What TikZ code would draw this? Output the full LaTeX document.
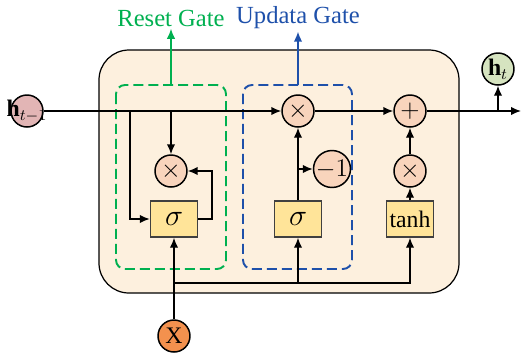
\documentclass[tikz,border=0pt]{standalone}
\usepackage{fontspec}
\setmainfont{Liberation Serif}
\usetikzlibrary{positioning,arrows.meta,calc}
\definecolor{cellbg}{RGB}{253,240,222}
\definecolor{opfill}{RGB}{248,212,188}
\definecolor{actfill}{RGB}{255,228,153}
\definecolor{hprevfill}{RGB}{226,181,181}
\definecolor{hnowfill}{RGB}{214,228,192}
\definecolor{xfill}{RGB}{243,145,78}
\definecolor{rgreen}{RGB}{0,176,80}
\definecolor{ublue}{RGB}{30,80,170}

\begin{document}
\begin{tikzpicture}[x=0.02cm,y=-0.02cm,line width=0.85pt,
    op/.style={circle,draw,fill=opfill,minimum size=0.64cm,inner sep=0pt,font=\Large},
    act/.style={draw=black!75,fill=actfill,minimum width=0.94cm,minimum height=0.72cm,inner sep=0pt},
    io/.style={circle,draw,minimum size=0.64cm,inner sep=0pt,font=\fontsize{13.5}{15}\selectfont},
    arr/.style={-{Latex[length=2mm,width=1.7mm]}},
    gate/.style={dash pattern=on 0.2cm off 0.1cm,rounded corners=0.18cm,line width=1.1pt},
    glabel/.style={font=\fontsize{14}{16}\selectfont,inner sep=1pt}]
  \useasboundingbox (0,0) rectangle (525,353);
  % cell and gate frames
  \draw[fill=cellbg,line width=0.7pt,rounded corners=0.6cm] (99,50) rectangle (459,293);
  \draw[gate,rgreen] (116,85) rectangle (226,269);
  \draw[gate,ublue] (243,85) rectangle (352,269);
  % operations
  \node[op] (mul1) at (171,171) {$\times$};
  \node[op] (mul2) at (298,111) {$\times$};
  \node[op] (neg) at (332,169) {$-1$};
  \node[op] (add) at (410,111) {$+$};
  \node[op] (mul3) at (410,171) {$\times$};
  \node[act,font=\LARGE] (sig1) at (174,219) {$\sigma$};
  \node[act,font=\LARGE] (sig2) at (298,219) {$\sigma$};
  \node[act,font=\fontsize{13.5}{15}\selectfont] (tnh) at (410,219) {tanh};
  % inputs and output
  \node[io,fill=hprevfill] (hprev) at (27,111) {\makebox[0pt][c]{\textbf{h}$_{t-1}$}};
  \node[io,fill=hnowfill] (hnow) at (498,69) {\makebox[0pt][c]{\textbf{h}$_{t}$}};
  \node[io,fill=xfill] (xin) at (174,336) {X};
  \node[glabel,text=rgreen] (rlab) at (171,18) {Reset Gate};
  \node[glabel,text=ublue] (ulab) at (298,18) {Updata Gate};
  \coordinate (rtop) at (171,85);
  \coordinate (utop) at (298,85);
  \coordinate (out) at (521,111);
  \coordinate (br1) at (130,111);
  \coordinate (br2) at (171,111);
  \coordinate (brh) at (498,111);
  \coordinate (brn) at (298,169);
  \coordinate (brx) at (174,283);
  % connectors
  \draw[arr,rgreen] (rtop) -- (rlab);
  \draw[arr,ublue] (utop) -- (ulab);
  \draw[arr] (hprev) -- (mul2);
  \draw[arr] (mul2) -- (add);
  \draw[arr] (add) -- (out);
  \draw[arr] (brh) -- (hnow);
  \draw[arr] (br1) |- (sig1);
  \draw[arr] (br2) -- (mul1);
  \draw[arr] (sig1.east) -- ++(14,0) |- (mul1);
  \draw[arr] (xin) -- (sig1);
  \draw[arr] (brx) -| (sig2);
  \draw[arr] (brx) -| (tnh);
  \draw[arr] (sig2) -- (mul2);
  \draw[arr] (brn) -- (neg);
  \draw[arr] (tnh) -- (mul3);
  \draw[arr] (mul3) -- (add);
\end{tikzpicture}
\end{document}
